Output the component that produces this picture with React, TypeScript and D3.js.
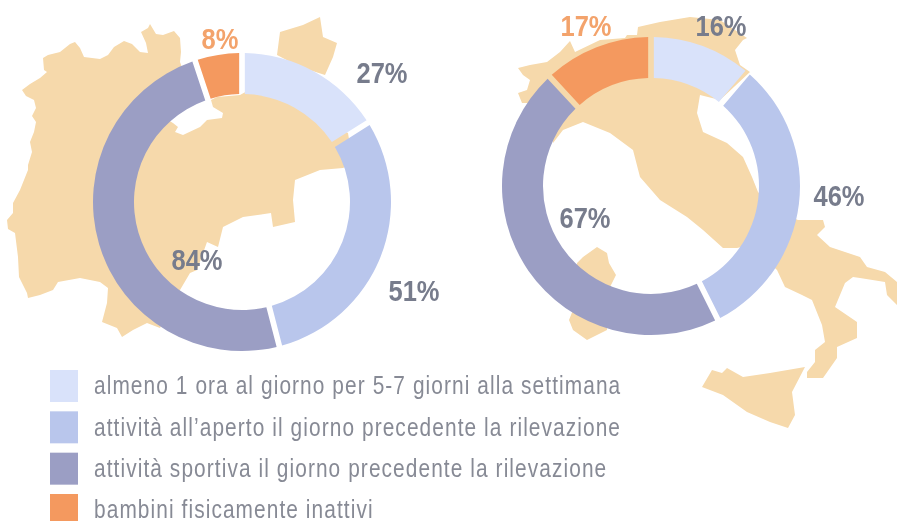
import React from 'react';
import * as d3 from 'd3';

const width = 897;
const height = 521;

const categories = [
  'almeno 1 ora al giorno per 5-7 giorni alla settimana',
  'attività all’aperto il giorno precedente la rilevazione',
  'attività sportiva il giorno precedente la rilevazione',
  'bambini fisicamente inattivi',
];
const colors = ['#d9e2fa', '#b9c6ec', '#9b9ec4', '#f4995f'];

const leftValues = [27, 51, 84, 8];
const rightValues = [16, 46, 67, 17];

// label centres, same order as the values
const leftLabelPos: [number, number][] = [[382, 72], [414, 290], [197, 259], [220, 38]];
const rightLabelPos: [number, number][] = [[721, 25], [839, 195], [585, 217], [586, 25]];

// background map outlines
const alpsMain: [number, number][] = [
  [43, 58], [48, 55], [60, 52], [70, 44], [75, 42], [80, 48], [84, 57], [92, 58], [100, 59], [108, 55], [114, 47],
  [124, 41], [132, 44], [140, 52], [148, 53], [146, 43], [141, 32], [148, 28], [150, 24], [156, 34], [163, 35],
  [174, 31], [180, 38], [181, 52], [180, 62], [190, 90], [187, 100], [168, 120], [173, 123], [178, 127], [175, 132],
  [183, 135], [200, 127], [207, 120], [222, 118], [223, 113], [213, 107], [211, 100], [217, 97], [240, 95],
  [267, 80], [337, 127], [348, 133], [353, 163], [343, 168], [320, 170], [295, 180], [293, 200], [295, 222],
  [273, 227], [271, 213], [243, 217], [223, 227], [218, 247], [207, 242], [197, 270], [190, 273], [180, 290],
  [160, 328], [147, 323], [133, 330], [122, 337], [117, 328], [102, 322], [107, 303], [108, 288], [100, 282],
  [80, 278], [58, 282], [53, 290], [40, 295], [28, 298], [27, 293], [19, 277], [18, 257], [15, 233], [8, 229],
  [7, 220], [13, 213], [13, 203], [20, 190], [28, 170], [28, 165], [32, 152], [30, 142], [34, 132], [36, 122],
  [32, 116], [36, 108], [34, 100], [26, 96], [22, 90], [30, 84], [40, 78], [47, 72], [44, 70],
];
const alpsNorth: [number, number][] = [
  [277, 55], [280, 32], [303, 25], [320, 17], [323, 37], [337, 43], [333, 57], [325, 75], [300, 67],
];
const italyMain: [number, number][] = [
  [518, 68], [530, 65], [547, 62], [560, 52], [570, 41], [575, 52], [600, 40], [625, 38], [627, 35], [637, 35],
  [638, 27], [660, 22], [690, 17], [720, 20], [747, 38], [743, 40], [735, 50], [740, 65], [750, 72], [720, 100],
  [700, 95], [697, 113], [703, 132], [727, 143], [743, 157], [752, 177], [758, 192], [775, 210], [798, 220],
  [823, 220], [825, 227], [817, 235], [830, 247], [860, 257], [867, 267], [885, 272], [897, 282], [897, 305],
  [887, 295], [885, 282], [860, 278], [853, 277], [845, 283], [835, 307], [857, 322], [857, 338], [837, 347],
  [837, 358], [823, 378], [807, 378], [807, 372], [815, 362], [815, 350], [825, 342], [822, 325], [812, 300],
  [802, 295], [785, 287], [777, 270], [750, 245], [737, 248], [723, 248], [703, 230], [687, 217], [660, 200],
  [640, 177], [633, 150], [610, 133], [583, 122], [563, 130], [553, 143], [550, 113], [537, 103], [522, 103],
  [518, 93], [527, 90], [530, 80], [523, 75],
];
const sardinia: [number, number][] = [
  [577, 263], [583, 257], [597, 247], [607, 253], [609, 263], [616, 275], [610, 287], [607, 300], [607, 330],
  [587, 340], [573, 330], [569, 320], [577, 300],
];
const sicily: [number, number][] = [
  [702, 387], [712, 370], [722, 373], [727, 368], [743, 377], [770, 373], [805, 367], [792, 392], [795, 415],
  [788, 428], [770, 422], [747, 412], [723, 395],
];
const maps = [alpsMain, alpsNorth, italyMain, sardinia, sicily];

const outerR = 149;
const innerR = 108;
const pie = d3.pie<number>().sort(null).padAngle(4 / 130);
const arc = d3.arc<d3.PieArcDatum<number>>().innerRadius(innerR).outerRadius(outerR);
const outline = d3.line<[number, number]>().curve(d3.curveLinearClosed);

const mapColor = '#f6d9ab';
const labelGrey = '#777c8c';
const sans = '"Liberation Sans", Arial, sans-serif';

const Donut = ({ values, cx, cy, labels }: { values: number[]; cx: number; cy: number; labels: [number, number][] }) => (
  <g>
    <g transform={`translate(${cx},${cy})`}>
      {pie(values).map((d, i) => (
        <path key={i} d={arc(d) as string} fill={colors[i]} />
      ))}
    </g>
    {values.map((v, i) => (
      <text
        key={i}
        transform={`translate(${labels[i][0]},${labels[i][1]}) scale(0.85,1)`}
        dy="0.36em"
        textAnchor="middle"
        fontFamily={sans}
        fontWeight="bold"
        fontSize={30}
        fill={i === 3 ? '#f3a36c' : labelGrey}
      >
        {v}%
      </text>
    ))}
  </g>
);

const App = () => {
  const legendY = d3.scalePoint<string>().domain(categories).range([386, 510]);
  return (
    <svg
      width={width}
      height={height}
      viewBox={`0 0 ${width} ${height}`}
      style={{ position: 'absolute', left: 0, top: 0, background: '#fff' }}
    >
      <defs>
        <filter id="scan" x="-5%" y="-5%" width="110%" height="110%">
          <feGaussianBlur stdDeviation="0.5" />
        </filter>
      </defs>
      <g filter="url(#scan)">
        {maps.map((p, i) => (
          <path key={i} d={outline(p) as string} fill={mapColor} />
        ))}
        <Donut values={leftValues} cx={242} cy={202} labels={leftLabelPos} />
        <Donut values={rightValues} cx={651} cy={186} labels={rightLabelPos} />
        {categories.map((c, i) => {
          const y = legendY(c) as number;
          return (
            <g key={c}>
              <rect x={50} y={y - 16} width={28} height={32} fill={colors[i]} />
              <text
                transform={`translate(94,${y}) scale(0.835,1)`}
                dy="0.33em"
                fontFamily={sans}
                fontSize={25}
                letterSpacing={1.3}
                fill="#878a95"
              >
                {c}
              </text>
            </g>
          );
        })}
      </g>
    </svg>
  );
};

export default App;
